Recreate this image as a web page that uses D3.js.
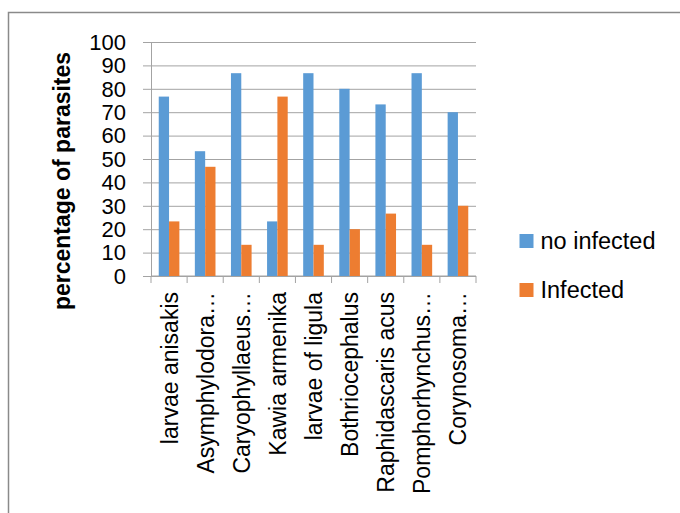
<!DOCTYPE html>
<html>
<head>
<meta charset="utf-8">
<script src="https://cdn.jsdelivr.net/npm/d3@7/dist/d3.min.js"></script>
<style>
  html, body { margin: 0; padding: 0; background: #fff; }
  svg { display: block; font-family: "Liberation Sans", Arial, sans-serif; }
</style>
</head>
<body>
<svg id="chart" width="680" height="513"></svg>
<script>
// Parasite species and share of fish (%) without / with each parasite
const categories = [
  "larvae anisakis", "Asymphylodora\u2026", "Caryophyllaeus\u2026", "Kawia armenika",
  "larvae of ligula", "Bothriocephalus", "Raphidascaris acus", "Pomphorhynchus\u2026", "Corynosoma\u2026"
];
const seriesNames = ["no infected", "Infected"];
const noInfected = [76.67, 53.33, 86.67, 23.33, 86.67, 80, 73.33, 86.67, 70];
const infected   = [23.33, 46.67, 13.33, 76.67, 13.33, 20, 26.67, 13.33, 30];
const yTicks = [0, 10, 20, 30, 40, 50, 60, 70, 80, 90, 100];
const colors = ["#5B9BD5", "#ED7D31"];

const svg = d3.select("#chart");

// outer chart frame
svg.append("rect")
  .attr("x", 8.5).attr("y", 12.5)
  .attr("width", 700).attr("height", 520)
  .attr("fill", "#fff").attr("stroke", "#8a8a8a").attr("stroke-width", 1.5);

const plot = { left: 151, right: 476, top: 42, bottom: 276 };

const y = d3.scaleLinear().domain([0, 100]).range([plot.bottom, plot.top]);
const x0 = d3.scaleBand().domain(categories).range([plot.left, plot.right]).padding(0);
// 150% gap width: each category = 2 bars + 1.5 bar widths of gap
const bw = x0.bandwidth() / 3.5;
const x1 = d3.scaleBand().domain(seriesNames).range([0.75 * bw, 2.75 * bw]).padding(0);

const gridColor = "#a3a3a3";

// horizontal gridlines with small outside ticks on the left
const yAxis = d3.axisLeft(y).tickValues(yTicks)
  .tickSize(-(plot.right - plot.left)).tickSizeOuter(0).tickPadding(0).tickFormat("");
const gy = svg.append("g").attr("transform", `translate(${plot.left},0)`).call(yAxis);
gy.select(".domain").attr("stroke", gridColor);
gy.selectAll(".tick line").attr("stroke", gridColor).attr("x1", -8);

// y tick labels
svg.append("g").selectAll("text").data(yTicks).join("text")
  .attr("x", 126).attr("y", d => y(d)).attr("dy", "0.35em")
  .attr("text-anchor", "end").attr("font-size", 22).attr("fill", "#000")
  .text(d => d);

// category axis with ticks between categories
const bounds = categories.map(c => x0(c)).concat([plot.right]);
svg.append("g").selectAll("line").data(bounds).join("line")
  .attr("x1", d => d).attr("x2", d => d)
  .attr("y1", plot.bottom).attr("y2", plot.bottom + 7)
  .attr("stroke", gridColor);
svg.append("line")
  .attr("x1", plot.left).attr("x2", plot.right)
  .attr("y1", plot.bottom).attr("y2", plot.bottom)
  .attr("stroke", gridColor);

// bars
const rows = categories.map((c, i) => ({ cat: c, vals: [noInfected[i], infected[i]] }));
const groups = svg.append("g").selectAll("g").data(rows).join("g")
  .attr("transform", d => `translate(${x0(d.cat)},0)`);
groups.selectAll("rect")
  .data(d => d.vals.map((v, j) => ({ name: seriesNames[j], v, j })))
  .join("rect")
  .attr("x", d => x1(d.name))
  .attr("width", x1.bandwidth())
  .attr("y", d => y(d.v))
  .attr("height", d => y(0) - y(d.v))
  .attr("fill", d => colors[d.j]);

// rotated category labels
svg.append("g").selectAll("text").data(categories).join("text")
  .attr("transform", d => `translate(${x0(d) + x0.bandwidth() / 2},292) rotate(-90)`)
  .attr("dy", "0.37em")
  .attr("text-anchor", "end").attr("font-size", 23).attr("fill", "#000")
  .text(d => d);

// y axis title
svg.append("text")
  .attr("transform", "translate(70,181) rotate(-90)")
  .attr("text-anchor", "middle").attr("font-size", 23).attr("font-weight", "bold")
  .attr("fill", "#000")
  .text("percentage of parasites");

// legend
const legend = svg.append("g").selectAll("g").data(seriesNames).join("g")
  .attr("transform", (d, i) => `translate(519.5,${234 + i * 49})`);
legend.append("rect")
  .attr("width", 14).attr("height", 14)
  .attr("fill", (d, i) => colors[i]);
legend.append("text")
  .attr("x", 21).attr("y", 15.3)
  .attr("font-size", 23.5).attr("fill", "#000")
  .text(d => d);
</script>
</body>
</html>
